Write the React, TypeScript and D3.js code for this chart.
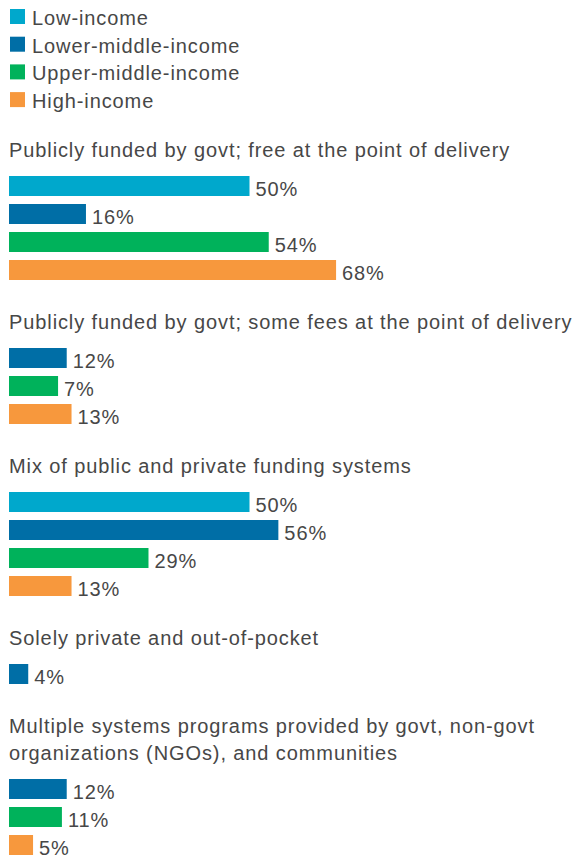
import React from "react";
import * as d3 from "d3";

const incomeGroups = ["Low-income", "Lower-middle-income", "Upper-middle-income", "High-income"];
const incomeColors = ["#00a8cc", "#006ea6", "#00b25b", "#f7983d"];

const systemTitles: string[][] = [
  ["Publicly funded by govt; free at the point of delivery"],
  ["Publicly funded by govt; some fees at the point of delivery"],
  ["Mix of public and private funding systems"],
  ["Solely private and out-of-pocket"],
  ["Multiple systems programs provided by govt, non-govt", "organizations (NGOs), and communities"],
];

// labelled shares (%)
const lowIncome: (number | null)[] = [50, null, 50, null, null];
const lowerMiddleIncome: (number | null)[] = [16, 12, 56, 4, 12];
const upperMiddleIncome: (number | null)[] = [54, 7, 29, null, 11];
const highIncome: (number | null)[] = [68, 13, 13, null, 5];

// bar lengths as drawn in the picture (the 7% bar is drawn at ~10%)
const upperMiddleIncomeBars: (number | null)[] = [54, 10.2, 29, null, 11];

const series = [lowIncome, lowerMiddleIncome, upperMiddleIncome, highIncome];
const seriesBars = [lowIncome, lowerMiddleIncome, upperMiddleIncomeBars, highIncome];

const W = 573;
const H = 859;
const FONT = "'Liberation Sans', Arial, sans-serif";
const TEXT = "#474747";

export default function App() {
  const x = d3.scaleLinear().domain([0, 100]).range([0, 481]);
  const left = 9;
  const barH = 20;
  const step = 28;
  const lineH = 27;

  const legendStep = 27.7;
  const legendBase0 = 25;

  type Bar = { y: number; v: number; len: number; c: number };
  const blocks: { titleY: number[]; bars: Bar[] }[] = [];
  let base = 157;
  systemTitles.forEach((lines, gi) => {
    const titleY = lines.map((_, i) => base + i * lineH);
    const lastBase = titleY[titleY.length - 1];
    let y = lastBase + 19;
    const bars: Bar[] = [];
    series.forEach((s, si) => {
      const v = s[gi];
      if (v == null) return;
      const len = seriesBars[si][gi] ?? v;
      bars.push({ y, v, len, c: si });
      y += step;
    });
    blocks.push({ titleY, bars });
    base = y - step + barH + 49;
  });

  const textProps = { fontSize: 20, letterSpacing: 0.9, fill: TEXT };

  return (
    <svg
      width={W}
      height={H}
      style={{ position: "absolute", left: 0, top: 0, background: "#fff" }}
      fontFamily={FONT}
    >
      <g>
        {incomeGroups.map((g, i) => (
          <g key={g}>
            <rect
              x={10}
              y={legendBase0 + i * legendStep - 16}
              width={15}
              height={15}
              fill={incomeColors[i]}
            />
            <text x={32} y={legendBase0 + i * legendStep} {...textProps}>
              {g}
            </text>
          </g>
        ))}
      </g>
      {blocks.map((b, bi) => (
        <g key={bi}>
          {systemTitles[bi].map((line, li) => (
            <text key={li} x={left} y={b.titleY[li]} {...textProps}>
              {line}
            </text>
          ))}
          {b.bars.map((bar, k) => (
            <g key={k}>
              <rect
                x={left}
                y={bar.y}
                width={x(bar.len)}
                height={barH}
                fill={incomeColors[bar.c]}
              />
              <text x={left + x(bar.len) + 6} y={bar.y + barH} {...textProps}>
                {`${bar.v}%`}
              </text>
            </g>
          ))}
        </g>
      ))}
    </svg>
  );
}
